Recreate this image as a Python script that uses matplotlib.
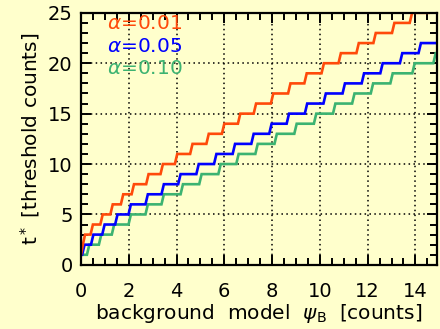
import matplotlib
matplotlib.use("Agg")
import matplotlib.pyplot as plt
from matplotlib.ticker import MultipleLocator

# background value psi_B at which t* goes up by one count
alphas = ["0.01", "0.05", "0.10"]
red_steps = [0.03, 0.12, 0.45, 0.86, 1.28, 1.72, 2.17, 2.78, 3.38, 3.98, 4.62, 5.30,
             5.95, 6.62, 7.28, 8.00, 8.72, 9.40, 10.12, 10.83, 11.58, 12.29, 13.07,
             13.81, 14.60]
blue_steps = [0.10, 0.47, 0.94, 1.48, 2.04, 2.75, 3.42, 4.12, 4.88, 5.62, 6.40, 7.18,
              7.93, 8.66, 9.42, 10.20, 11.00, 11.80, 12.58, 13.40, 14.18]
green_steps = [0.30, 0.80, 1.34, 2.04, 2.75, 3.42, 4.22, 5.00, 5.80, 6.55, 7.35, 8.15,
               8.98, 9.80, 10.60, 11.40, 12.18, 13.00, 13.92, 14.80]
start_level = 1

BG = "#ffffcc"
colors = ["#ff4a0a", "#0000ff", "#3cb371"]


def step_path(steps, start, xmax=15.0, rise=0.1):
    # sampled step curve: each jump is drawn over one sampling interval
    xs, ys = [0.0], [start]
    level = start
    for t in steps:
        xs.append(max(t - rise / 2, xs[-1]))
        ys.append(level)
        level += 1
        xs.append(t + rise / 2)
        ys.append(level)
    xs.append(xmax)
    ys.append(level)
    return xs, ys


fig = plt.figure(figsize=(4.4, 3.29), dpi=100, facecolor=BG)
ax = fig.add_axes([0.184, 0.195, 0.809, 0.766])
ax.set_facecolor(BG)

for steps, c in zip([green_steps, blue_steps, red_steps], colors[::-1]):
    xs, ys = step_path(steps, start_level)
    ax.plot(xs, ys, color=c, lw=1.9, solid_joinstyle="miter")

ax.set_xlim(0, 14.9)
ax.set_ylim(0, 25)
ax.xaxis.set_major_locator(MultipleLocator(2))
ax.xaxis.set_minor_locator(MultipleLocator(0.5))
ax.yaxis.set_major_locator(MultipleLocator(5))
ax.yaxis.set_minor_locator(MultipleLocator(1))
ax.grid(True, which="major", color="black", linestyle=(0, (1, 2.2)), lw=1.1)
ax.tick_params(which="both", direction="in", top=True, right=True, width=1.4,
               labelsize=14, colors="black")
ax.tick_params(which="major", length=7)
ax.tick_params(which="minor", length=5)
ax.tick_params(axis="x", pad=12)
ax.tick_params(axis="y", pad=6)
for s in ax.spines.values():
    s.set_linewidth(1.6)

for i, (a, c) in enumerate(zip(alphas, colors)):
    ax.text(1.1, 23.9 - 2.2 * i, r"$\alpha$=" + a, color=c, fontsize=14.5, va="center")

ax.set_xlabel(r"background  model  $\psi_{\rm B}$  [counts]", fontsize=14.5, labelpad=1)
ax.set_ylabel(r"t$^*$ [threshold counts]", fontsize=14.5, labelpad=4)

fig.savefig("out.png", dpi=100, facecolor=BG)
